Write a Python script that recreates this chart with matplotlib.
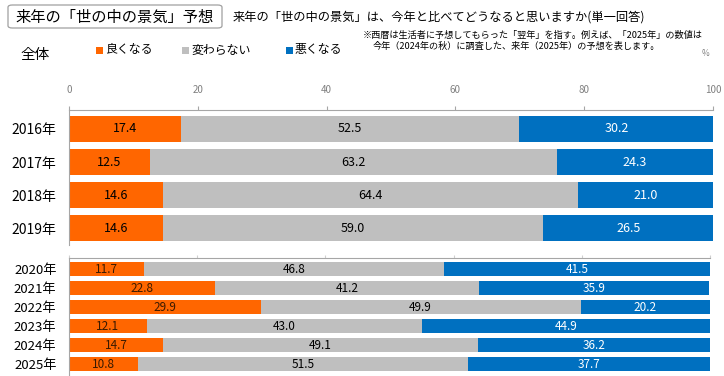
import matplotlib.pyplot as plt
from matplotlib.patches import FancyBboxPatch, Rectangle

plt.rcParams['font.family'] = ['Noto Sans CJK JP', 'DejaVu Sans']

# data
years_top = ['2016年', '2017年', '2018年', '2019年']
good_top = [17.4, 12.5, 14.6, 14.6]
same_top = [52.5, 63.2, 64.4, 59.0]
bad_top = [30.2, 24.3, 21.0, 26.5]

years_bottom = ['2020年', '2021年', '2022年', '2023年', '2024年', '2025年']
good_bottom = [11.7, 22.8, 29.9, 12.1, 14.7, 10.8]
same_bottom = [46.8, 41.2, 49.9, 43.0, 49.1, 51.5]
bad_bottom = [41.5, 35.9, 20.2, 44.9, 36.2, 37.7]

series_names = ['良くなる', '変わらない', '悪くなる']
colors = ['#FF6600', '#BFBFBF', '#0070C0']
x_ticks = [0, 20, 40, 60, 80, 100]

W, H = 724, 376
fig = plt.figure(figsize=(W / 100, H / 100), dpi=100)


def px_axes(x0, y0, x1, y1):
    # pixel box (top-left origin) -> figure axes
    return fig.add_axes([x0 / W, 1 - y1 / H, (x1 - x0) / W, (y1 - y0) / H])


def draw_bars(ax, years, good, same, bad, height, fs, label_fs, weight, good_txt):
    ys = list(range(len(years)))
    lefts = [0] * len(years)
    for vals, col, tcol in [(good, colors[0], good_txt), (same, colors[1], 'black'),
                            (bad, colors[2], 'white')]:
        ax.barh(ys, vals, left=lefts, height=height, color=col, edgecolor='none')
        for y, l, v in zip(ys, lefts, vals):
            ax.text(l + v / 2, y, f'{v:.1f}', ha='center', va='center',
                    fontsize=fs, color=tcol)
        lefts = [a + b for a, b in zip(lefts, vals)]
    ax.set_yticks(ys)
    ax.set_yticklabels(years, fontsize=label_fs, fontweight=weight)
    ax.tick_params(axis='y', length=0, pad=9)
    ax.set_xlim(0, 100)
    for s in ['right', 'bottom']:
        ax.spines[s].set_visible(False)
    for s in ['left', 'top']:
        ax.spines[s].set_color('#A6A6A6')
        ax.spines[s].set_linewidth(0.8)
    ax.patch.set_alpha(0)


# top section (2016-2019)
ax1 = px_axes(69, 110, 713, 245)
draw_bars(ax1, years_top, good_top, same_top, bad_top, 0.78, 9, 10, 'normal', 'black')
ax1.set_ylim(3.5, -0.57)
ax1.xaxis.tick_top()
ax1.set_xticks(x_ticks)
ax1.set_xticklabels([str(t) for t in x_ticks], fontsize=7, color='#808080')
ax1.tick_params(axis='x', length=3, color='#A6A6A6', pad=8)

# bottom section (2020-2025)
ax2 = px_axes(69, 258, 710, 376)
draw_bars(ax2, years_bottom, good_bottom, same_bottom, bad_bottom, 0.73, 8.5, 9.5,
          'normal', '#3A1A00')
ax2.set_ylim(5.63, -0.58)
ax2.xaxis.tick_top()
ax2.set_xticks(x_ticks)
ax2.set_xticklabels([])
ax2.tick_params(axis='x', length=2, color='#D0D0D0', direction='out')

# header
box = FancyBboxPatch((8 / W, 1 - 28 / H), 214 / W, 23 / H,
                     boxstyle='round,pad=0,rounding_size=0.006',
                     transform=fig.transFigure, facecolor='white',
                     edgecolor='#A0A0A0', linewidth=0.9)
fig.patches.append(box)
fig.text(115 / W, 1 - 17 / H, '来年の「世の中の景気」予想', ha='center', va='center',
         fontsize=11)
fig.text(233 / W, 1 - 17 / H, '来年の「世の中の景気」は、今年と比べてどうなると思いますか(単一回答)',
         ha='left', va='center', fontsize=8.8)
fig.text(703 / W, 1 - 35 / H, '※西暦は生活者に予想してもらった「翌年」を指す。例えば、「2025年」の数値は',
         ha='right', va='center', fontsize=6.6)
fig.text(373 / W, 1 - 46 / H, '今年（2024年の秋）に調査した、来年（2025年）の予想を表します。',
         ha='left', va='center', fontsize=6.6)
fig.text(706 / W, 1 - 53 / H, '%', ha='center', va='center', fontsize=6, color='#808080')
fig.text(20 / W, 1 - 55 / H, '全体', ha='left', va='center', fontsize=10.5)

legend_x = [96, 182, 286]
for lx, name, col in zip(legend_x, series_names, colors):
    fig.patches.append(Rectangle((lx / W, 1 - 54 / H), 7 / W, 7 / H,
                                 transform=fig.transFigure, facecolor=col,
                                 edgecolor='none'))
    fig.text((lx + 9) / W, 1 - 50 / H, name, ha='left', va='center', fontsize=8.6)

fig.savefig('out.png', dpi=100)
